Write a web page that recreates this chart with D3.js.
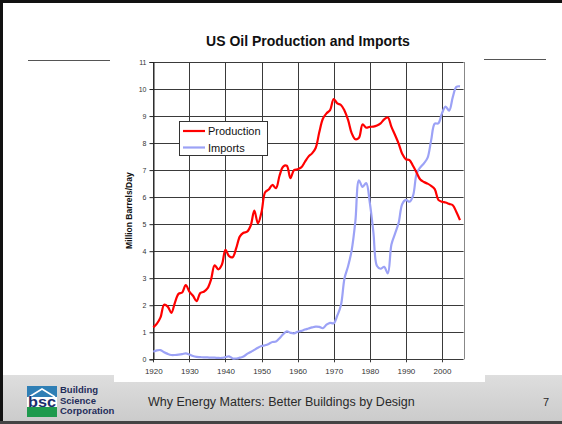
<!DOCTYPE html>
<html>
<head>
<meta charset="utf-8">
<script src="https://cdn.jsdelivr.net/npm/d3@7"></script>
<style>
  html, body { margin: 0; padding: 0; background: #fff; }
  svg { display: block; font-family: "Liberation Sans", Arial, sans-serif; }
</style>
</head>
<body>
<svg id="chart" width="562" height="424"></svg>
<script>
const title = "US Oil Production and Imports";
const yAxisTitle = "Million Barrels/Day";
const footerText = "Why Energy Matters: Better Buildings by Design";
const pageNumber = "7";
const logoLines = ["Building", "Science", "Corporation"];

const years = [1920,1921,1922,1923,1924,1925,1926,1927,1928,1929,
  1930,1931,1932,1933,1934,1935,1936,1937,1938,1939,
  1940,1941,1942,1943,1944,1945,1946,1947,1948,1949,
  1950,1951,1952,1953,1954,1955,1956,1957,1958,1959,
  1960,1961,1962,1963,1964,1965,1966,1967,1968,1969,
  1970,1971,1972,1973,1974,1975,1976,1977,1978,1979,
  1980,1981,1982,1983,1984,1985,1986,1987,1988,1989,
  1990,1991,1992,1993,1994,1995,1996,1997,1998,1999,
  2000,2001,2002,2003,2004,2005];

const production = [1.18,1.32,1.55,2.02,1.95,1.72,2.10,2.42,2.47,2.75,
  2.50,2.35,2.15,2.45,2.50,2.62,2.95,3.48,3.33,3.50,
  4.05,3.82,3.78,4.12,4.55,4.68,4.72,4.95,5.50,5.03,
  5.45,6.18,6.28,6.45,6.33,6.80,7.13,7.16,6.70,7.00,
  7.03,7.10,7.30,7.50,7.62,7.82,8.40,8.90,9.10,9.22,
  9.63,9.47,9.41,9.20,8.85,8.36,8.14,8.20,8.69,8.57,
  8.60,8.61,8.65,8.73,8.88,8.95,8.60,8.30,7.98,7.60,
  7.40,7.37,7.15,6.90,6.65,6.56,6.50,6.42,6.30,5.90,
  5.83,5.80,5.75,5.70,5.45,5.15];

const imports = [0.28,0.33,0.34,0.26,0.20,0.16,0.16,0.17,0.19,0.22,
  0.18,0.12,0.09,0.08,0.07,0.07,0.06,0.06,0.05,0.05,
  0.08,0.11,0.03,0.03,0.06,0.10,0.20,0.27,0.35,0.43,
  0.49,0.52,0.57,0.64,0.66,0.78,0.93,1.03,0.98,0.96,
  1.02,1.05,1.10,1.14,1.18,1.21,1.20,1.15,1.28,1.35,
  1.33,1.62,2.00,3.00,3.45,4.05,5.10,6.62,6.38,6.52,
  5.80,4.70,3.45,3.35,3.42,3.18,4.25,4.65,5.05,5.75,
  5.90,5.83,6.06,6.88,7.10,7.25,7.45,8.10,8.72,8.73,
  9.10,9.35,9.20,9.70,10.08,10.10];

const xTicks = [1920,1930,1940,1950,1960,1970,1980,1990,2000];
const yTicks = [0,1,2,3,4,5,6,7,8,9,10,11];
const seriesNames = ["Production", "Imports"];
const seriesColors = ["#ff0000", "#9ca2f6"];

const svg = d3.select("#chart");

// ---- slide background / frame ----
const defs = svg.append("defs");
const grad = defs.append("linearGradient").attr("id", "footGrad")
  .attr("x1", 0).attr("y1", 0).attr("x2", 0).attr("y2", 1);
grad.append("stop").attr("offset", "0%").attr("stop-color", "#dedede");
grad.append("stop").attr("offset", "100%").attr("stop-color", "#cbcbcb");

svg.append("rect").attr("x", 0).attr("y", 0).attr("width", 562).attr("height", 424).attr("fill", "#fff");
svg.append("rect").attr("x", 0).attr("y", 375).attr("width", 562).attr("height", 47).attr("fill", "url(#footGrad)");
// white chart picture overlapping footer
svg.append("rect").attr("x", 114).attr("y", 360).attr("width", 371).attr("height", 22).attr("fill", "#fff");
// borders
svg.append("rect").attr("x", 0).attr("y", 0).attr("width", 562).attr("height", 3).attr("fill", "#111");
svg.append("rect").attr("x", 0).attr("y", 0).attr("width", 3).attr("height", 424).attr("fill", "#111");
svg.append("rect").attr("x", 0).attr("y", 421).attr("width", 562).attr("height", 3).attr("fill", "#444");

// slide decoration lines
svg.append("line").attr("x1", 28).attr("x2", 110).attr("y1", 60.5).attr("y2", 60.5).attr("stroke", "#555").attr("stroke-width", 1);
svg.append("line").attr("x1", 484).attr("x2", 546).attr("y1", 59.5).attr("y2", 59.5).attr("stroke", "#555").attr("stroke-width", 1);

// ---- chart ----
const x = d3.scaleLinear().domain([1920, 2006]).range([153.3, 463.6]);
const y = d3.scaleLinear().domain([0, 11]).range([359.3, 62]);

svg.append("text").attr("x", 308).attr("y", 46).attr("text-anchor", "middle")
  .attr("font-size", 14).attr("font-weight", "bold").attr("fill", "#111").text(title);

const grid = svg.append("g");
grid.selectAll("line.h").data(yTicks).join("line")
  .attr("x1", x(1920)).attr("x2", x(2006))
  .attr("y1", d => Math.round(y(d)) + 0.5).attr("y2", d => Math.round(y(d)) + 0.5)
  .attr("stroke", "#3a3a3a").attr("stroke-width", 1);
grid.selectAll("line.v").data(xTicks).join("line")
  .attr("y1", y(11)).attr("y2", y(0) + 3)
  .attr("x1", d => Math.round(x(d)) + 0.5).attr("x2", d => Math.round(x(d)) + 0.5)
  .attr("stroke", "#3a3a3a").attr("stroke-width", 1);
grid.append("line").attr("x1", Math.round(x(2006)) + 0.5).attr("x2", Math.round(x(2006)) + 0.5)
  .attr("y1", y(11)).attr("y2", y(0)).attr("stroke", "#888").attr("stroke-width", 1);

// y axis with ticks
const yAxis = d3.axisLeft(y).tickValues(yTicks).tickSize(4).tickPadding(3);
const gy = svg.append("g").attr("transform", `translate(${Math.round(x(1920)) + 0.5},0)`).call(yAxis);
gy.select(".domain").attr("stroke", "#222");
gy.selectAll(".tick line").attr("stroke", "#222");
gy.selectAll(".tick text").attr("font-size", 7).attr("fill", "#333")
  .attr("font-family", "Liberation Sans, Arial, sans-serif");

// x axis labels
const xAxis = d3.axisBottom(x).tickValues(xTicks).tickFormat(d3.format("d")).tickSize(0).tickPadding(9);
const gx = svg.append("g").attr("transform", `translate(0,${y(0)})`).call(xAxis);
gx.select(".domain").remove();
gx.selectAll(".tick text").attr("font-size", 8).attr("fill", "#333")
  .attr("font-family", "Liberation Sans, Arial, sans-serif");

svg.append("text").attr("transform", `translate(132,${(y(0) + y(11)) / 2}) rotate(-90)`)
  .attr("text-anchor", "middle").attr("font-size", 8.5).attr("font-weight", "bold")
  .attr("fill", "#111").text(yAxisTitle);

// lines
const line = d3.line().x(d => x(d[0])).y(d => y(d[1])).curve(d3.curveCatmullRom.alpha(0.5));
const seriesData = [production, imports];
svg.append("g").selectAll("path").data([1, 0]).join("path")
  .attr("d", i => line(years.map((yr, k) => [yr, seriesData[i][k]])))
  .attr("fill", "none").attr("stroke", i => seriesColors[i]).attr("stroke-width", 2.2)
  .attr("stroke-linejoin", "round");

// legend
const lg = svg.append("g");
lg.append("rect").attr("x", 179.5).attr("y", 121.5).attr("width", 88).attr("height", 34)
  .attr("fill", "#fff").attr("stroke", "#333").attr("stroke-width", 1);
seriesNames.forEach((name, i) => {
  const cy = 131 + i * 16.5;
  lg.append("line").attr("x1", 183).attr("x2", 205).attr("y1", cy).attr("y2", cy)
    .attr("stroke", seriesColors[i]).attr("stroke-width", 2.2);
  lg.append("text").attr("x", 208).attr("y", cy + 4).attr("font-size", 11).attr("fill", "#111").text(name);
});

// ---- footer ----
const logo = svg.append("g");
logo.append("rect").attr("x", 27).attr("y", 386).attr("width", 30).attr("height", 31).attr("fill", "#fff");
logo.append("rect").attr("x", 27).attr("y", 386).attr("width", 30).attr("height", 11).attr("fill", "#2f7fb5");
logo.append("path").attr("d", "M29,397 L42,389 L55,397").attr("fill", "none").attr("stroke", "#fff").attr("stroke-width", 1.5);
logo.append("rect").attr("x", 27).attr("y", 407).attr("width", 30).attr("height", 10).attr("fill", "#1f9a4e");
logo.append("text").attr("x", 42).attr("y", 407).attr("text-anchor", "middle")
  .attr("font-size", 15).attr("font-weight", "bold").attr("fill", "#1b2f6e")
  .attr("textLength", 28).attr("lengthAdjust", "spacingAndGlyphs").text("bsc");
logoLines.forEach((t, i) => {
  svg.append("text").attr("x", 60).attr("y", 393 + i * 10.5)
    .attr("font-size", 9.5).attr("font-weight", "bold").attr("fill", "#1f2d5a").text(t);
});

svg.append("text").attr("x", 148).attr("y", 406).attr("font-size", 12.5).attr("fill", "#2a2a2a").text(footerText);
svg.append("text").attr("x", 543).attr("y", 406).attr("font-size", 11).attr("fill", "#2a2a2a").text(pageNumber);
</script>
</body>
</html>
